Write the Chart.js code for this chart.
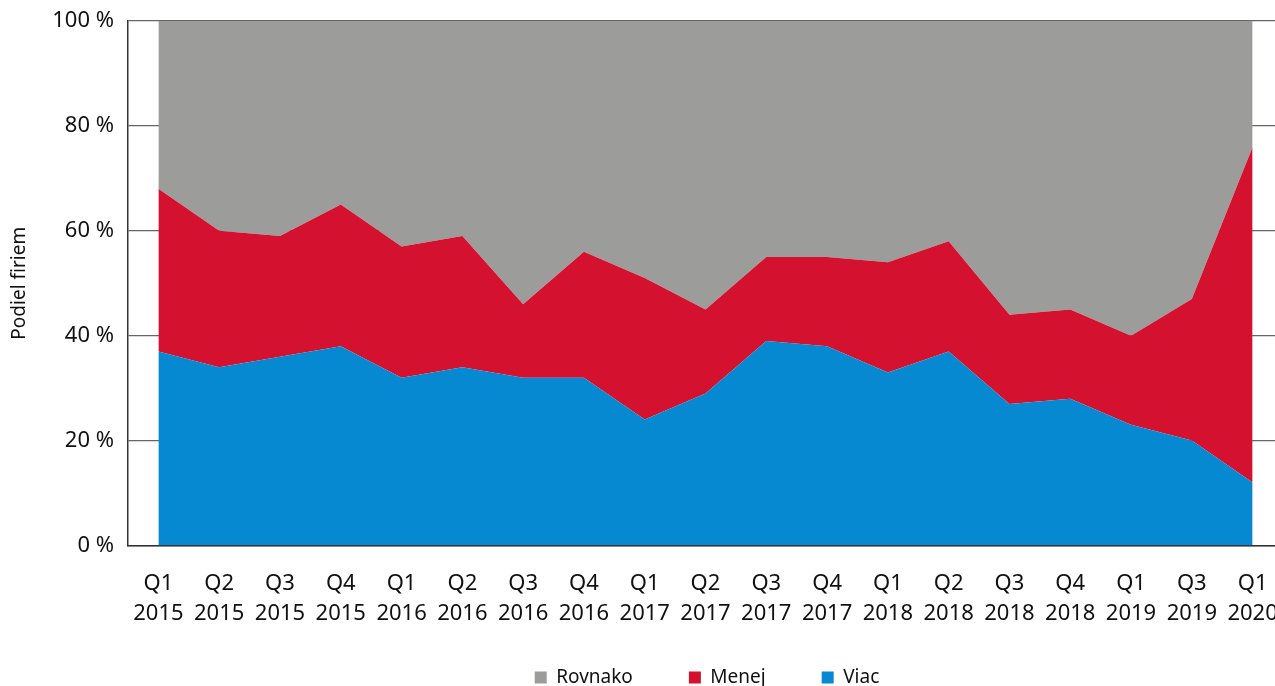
<!DOCTYPE html>
<html>
<head>
<meta charset="utf-8">
<script src="https://cdn.jsdelivr.net/npm/chart.js@4/dist/chart.umd.min.js"></script>
<style>
  html, body { margin: 0; padding: 0; background: #fff; overflow: hidden; }
  #areaChart { position: absolute; left: 0; top: 0; }
</style>
</head>
<body>
<canvas id="areaChart" width="1414" height="697"></canvas>
<script>
// data (share of firms, %)
var quarters = ['Q1 2015', 'Q2 2015', 'Q3 2015', 'Q4 2015', 'Q1 2016', 'Q2 2016', 'Q3 2016', 'Q4 2016',
                'Q1 2017', 'Q2 2017', 'Q3 2017', 'Q4 2017', 'Q1 2018', 'Q2 2018', 'Q3 2018', 'Q4 2018',
                'Q1 2019', 'Q3 2019', 'Q1 2020'];
var viac    = [37, 34, 36, 38, 32, 34, 32, 32, 24, 29, 39, 38, 33, 37, 27, 28, 23, 20, 12];
var menej   = [31, 26, 23, 27, 25, 25, 14, 24, 27, 16, 16, 17, 21, 21, 17, 17, 17, 27, 64];
var rovnako = [32, 40, 41, 35, 43, 41, 54, 44, 49, 55, 45, 45, 46, 42, 56, 55, 60, 53, 24];
var yTicks  = [0, 20, 40, 60, 80, 100];

var FONT = '"Noto Sans", "DejaVu Sans", sans-serif';

function area(label, values, color, fill) {
       return {
              label: label,
              data: values,
              backgroundColor: color,
              borderColor: color,
              borderWidth: 0,
              pointRadius: 0,
              tension: 0,
              fill: fill
       };
}

var ctx = document.getElementById('areaChart');
new Chart(ctx, {
       type: 'line',
       data: {
              labels: quarters.map(function (q) { return q.split(' '); }),
              datasets: [
                     area('Viac', viac, '#0689d1', 'origin'),
                     area('Menej', menej, '#d51130', '-1'),
                     area('Rovnako', rovnako, '#9c9c9a', '-1')
              ]
       },
       options: {
              responsive: false,
              animation: false,
              layout: { padding: { top: 21, right: 0, bottom: 0, left: 0 } },
              scales: {
                     x: {
                            offset: true,
                            grid: { display: false, drawTicks: false, tickLength: 0 },
                            border: { display: true, color: '#333', width: 1.5 },
                            ticks: {
                                   color: '#111',
                                   font: { family: FONT, size: 22, lineHeight: 1.36 },
                                   padding: 23,
                                   maxRotation: 0,
                                   autoSkip: false
                            },
                            afterFit: function (scale) { scale.height = 80; }
                     },
                     y: {
                            stacked: true,
                            min: 0,
                            max: 100,
                            afterBuildTicks: function (scale) {
                                   scale.ticks = yTicks.map(function (v) { return { value: v }; });
                            },
                            grid: { color: '#666', lineWidth: 1.2, drawTicks: false, tickLength: 0 },
                            border: { display: true, color: '#333', width: 1.5 },
                            ticks: {
                                   color: '#111',
                                   padding: 14,
                                   font: { family: FONT, size: 22 },
                                   callback: function (v) { return v + ' %'; }
                            },
                            title: {
                                   display: true,
                                   text: 'Podiel firiem',
                                   color: '#111',
                                   font: { family: FONT, size: 19 },
                                   padding: { top: 8, bottom: 0 }
                            },
                            afterFit: function (scale) {
                                   scale.width = 128;
                                   scale.paddingTop = 0;
                                   scale.paddingBottom = 0;
                            }
                     },
                     // empty space on the right, the picture is cut off there
                     spacer: {
                            type: 'linear',
                            position: 'right',
                            display: true,
                            grid: { display: false, drawTicks: false },
                            border: { display: false },
                            ticks: { display: false },
                            afterFit: function (scale) { scale.width = 131; }
                     }
              },
              plugins: {
                     legend: {
                            position: 'bottom',
                            reverse: true,
                            // empty title, pulls the row of items up a bit
                            title: { display: true, text: '', font: { size: 10 }, padding: { top: -25.5, bottom: 0 } },
                            labels: {
                                   color: '#111',
                                   boxWidth: 12,
                                   boxHeight: 12,
                                   padding: 56,
                                   font: { family: FONT, size: 19 }
                            }
                     },
                     tooltip: { enabled: false }
              }
       }
});
</script>
</body>
</html>
